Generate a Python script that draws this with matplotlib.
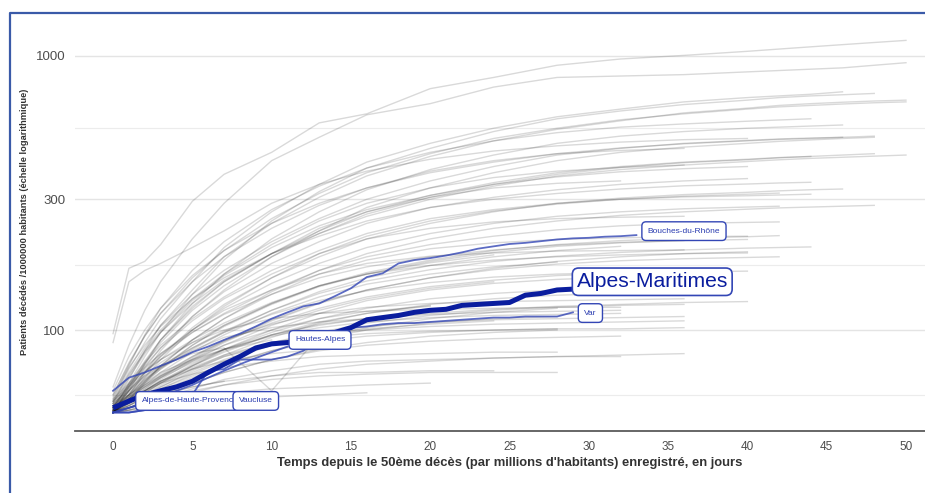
import matplotlib
matplotlib.use("Agg")
import matplotlib.pyplot as plt
from matplotlib.lines import Line2D

plt.rcParams["font.family"] = ["Liberation Sans", "DejaVu Sans"]

# Days at which the background (non-highlighted) departments are sampled
GRID_DAYS = [0, 1, 2, 3, 5, 7, 10, 13, 16, 20, 24, 28, 32, 36, 40, 42, 44, 46, 48, 50]

# Background departments, deaths per million (each list stops at its last day)
upper_curves = [
    [97, 168, 178, 205, 295, 370, 445, 570, 615, 760, 835, 925, 975, 1005, 1040, 1060, 1080, 1100, 1120, 1140],
    [62, 88, 118, 150, 215, 290, 415, 505, 610, 670, 770, 835, 845, 855, 875, 885, 895, 905, 925, 945],
    [55, 72, 90, 110, 150, 200, 270, 340, 410, 480, 545, 600, 640, 680, 705, 715, 725, 740],
    [51, 64, 80, 98, 135, 180, 250, 320, 390, 460, 530, 590, 630, 665, 690, 705, 715, 722, 730],
    [58, 76, 95, 115, 155, 195, 255, 315, 375, 440, 500, 545, 585, 615, 640, 652, 660, 668, 675, 680],
    [52, 66, 84, 104, 140, 185, 245, 305, 365, 430, 490, 540, 580, 620, 645, 660, 670, 678, 685, 690],
    [56, 74, 96, 120, 165, 210, 275, 335, 390, 445, 490, 525, 550, 565, 578, 584, 590],
    [50, 60, 75, 92, 125, 160, 215, 270, 325, 385, 435, 480, 510, 530, 545, 550, 555, 560],
    [90, 150, 165, 175, 200, 230, 290, 340, 380, 420, 450, 470, 485, 495, 500],
]

middle_curves = [
    [54, 70, 86, 104, 135, 165, 210, 255, 300, 350, 395, 435, 460, 480, 492, 498, 502, 505],
    [50, 58, 70, 84, 112, 140, 185, 230, 280, 330, 375, 415, 445, 465, 480, 488, 494, 500, 505],
    [60, 80, 100, 120, 158, 195, 245, 290, 330, 375, 410, 440, 462, 478, 490, 496, 500, 505, 510],
    [51, 63, 77, 92, 120, 150, 190, 230, 270, 310, 345, 375, 395, 410, 420, 426, 430, 435, 440],
    [55, 69, 83, 98, 125, 152, 190, 225, 260, 300, 335, 365, 385, 400, 412, 418, 423, 427, 431, 435],
    [50, 62, 75, 90, 118, 145, 185, 225, 265, 305, 340, 370, 392, 408, 418, 425, 430],
    [53, 67, 82, 98, 128, 158, 200, 240, 275, 310, 340, 362, 378, 388, 395],
    [58, 75, 95, 115, 150, 185, 235, 285, 330, 380, 415, 440, 452, 460],
    [54, 68, 84, 100, 130, 160, 205, 250, 290, 330, 360, 380, 392, 400],
    [50, 62, 76, 92, 122, 150, 190, 235, 270, 305, 330, 343, 350],
]

lower_middle_curves = [
    [50, 61, 73, 86, 112, 138, 175, 210, 245, 280, 305, 325, 340, 350, 357],
    [57, 73, 88, 103, 130, 155, 190, 220, 250, 280, 300, 315, 327, 336, 341, 344, 346],
    [50, 57, 67, 78, 100, 122, 155, 190, 220, 250, 272, 288, 300, 308, 313, 316],
    [52, 64, 76, 88, 110, 132, 165, 195, 225, 255, 275, 290, 300, 306, 309, 311, 313],
    [51, 58, 69, 80, 102, 124, 155, 185, 215, 245, 270, 290, 303, 312, 318, 322, 325, 327],
    [50, 60, 70, 81, 100, 120, 148, 175, 200, 225, 245, 260, 270, 277, 281, 283],
    [50, 55, 64, 74, 92, 110, 138, 165, 190, 215, 235, 250, 262, 270, 276, 279, 281, 283, 285],
    [51, 60, 70, 80, 98, 115, 140, 165, 185, 205, 220, 232, 240, 245, 247, 248],
    [52, 63, 74, 86, 108, 130, 160, 190, 215, 235, 248, 255, 258, 260],
    [50, 56, 65, 74, 92, 110, 135, 160, 180, 198, 208, 214, 217, 219, 220],
]

lower_curves = [
    [53, 62, 72, 82, 100, 118, 140, 160, 175, 186, 191, 194, 195, 196],
    [50, 56, 64, 72, 88, 104, 125, 145, 160, 172, 180, 185, 188, 190, 191],
    [50, 56, 62, 68, 80, 92, 105, 115, 121, 125, 127, 128, 129, 130],
    [51, 54, 59, 64, 74, 84, 96, 105, 110, 114, 116, 117, 118],
    [55, 63, 71, 78, 90, 100, 110, 115, 117, 119, 120, 121, 121],
    [50, 53, 57, 62, 71, 80, 90, 98, 103, 107, 109, 110, 111, 112],
    [51, 54, 59, 64, 72, 80, 88, 94, 97, 99, 100, 101, 101, 102],
    [50, 51, 53, 56, 61, 66, 71, 75, 77, 78, 79, 80, 80],
    [50, 52, 54, 57, 60, 63, 66, 68, 69, 70, 70, 70],
    [52, 56, 60, 64, 69, 73, 77, 80, 81, 82, 83, 83],
    [50, 52, 55, 58, 62, 65, 68, 70, 70, 71, 71],
    [50, 51, 52, 54, 57, 59, 61, 62, 63, 64],
    [50, 51, 51, 52, 54, 56, 57, 58, 59],
]

filler_curves = [
    [50, 55, 61, 67, 78, 90, 108, 125, 140, 155, 168, 178, 185, 190, 193],
    [52, 58, 65, 72, 85, 98, 118, 138, 155, 172, 185, 195, 202],
    [50, 54, 59, 64, 74, 85, 100, 115, 128, 140, 148, 153, 156, 158],
    [53, 60, 68, 76, 90, 104, 125, 145, 162, 180, 195, 205, 212, 216, 219, 221],
    [50, 56, 63, 70, 83, 96, 115, 132, 147, 160, 170, 177],
    [51, 55, 60, 65, 75, 85, 98, 110, 120, 130, 136, 140, 142],
    [55, 62, 70, 78, 92, 106, 126, 145, 160, 176, 188],
    [50, 53, 57, 61, 69, 77, 88, 98, 106, 113, 118, 121, 123, 124],
    [52, 57, 63, 69, 80, 91, 106, 120, 132, 144, 152, 158, 161, 163, 164],
    [50, 55, 60, 66, 77, 88, 104, 118, 130, 142, 150],
    [54, 60, 67, 74, 86, 98, 114, 128, 139, 149, 156, 160, 162],
    [50, 52, 55, 58, 64, 70, 78, 85, 90, 95, 98, 100],
    [51, 56, 62, 68, 78, 88, 100, 110, 117, 122],
    [50, 54, 58, 63, 72, 81, 94, 106, 115, 124, 130, 134, 136, 137],
    [56, 64, 73, 82, 98, 114, 135, 155, 170, 185, 196, 204, 209, 212],
    [50, 57, 65, 73, 88, 103, 124, 144, 160, 178, 192, 202, 208, 212, 214],
    [52, 56, 60, 65, 74, 83, 96, 107, 115, 123],
    [50, 53, 56, 60, 67, 74, 84, 93, 100, 106, 110, 112],
    [53, 59, 66, 73, 86, 99, 118, 136, 151, 166, 178, 186, 192, 196, 199, 200, 201],
    [50, 55, 61, 67, 79, 91, 109, 126, 140, 155, 166, 174, 179, 182, 184, 185],
]

slow_curves = [
    [51, 55, 60, 65, 73, 81, 90, 96, 100, 103, 105, 106, 107, 108],
    [50, 53, 57, 61, 68, 75, 84, 91, 95, 98, 100, 101],
    [53, 58, 63, 68, 77, 85, 95, 102, 107, 111, 113, 114, 115],
    [50, 52, 55, 58, 64, 70, 78, 84, 88, 91, 93, 94, 95],
    [52, 57, 62, 67, 76, 85, 96, 104, 110, 115, 119, 122, 124, 126, 127],
    [50, 54, 58, 62, 70, 78, 88, 96, 101, 105, 108],
    [50, 51, 53, 55, 59, 63, 68, 72, 75, 77, 79, 80, 81, 82],
]

short_curves = [
    [50, 55, 60, 65, 72, 77, 82, 85],
    [52, 58, 64, 70, 78, 85, 92],
    [50, 52, 55, 58, 62, 65],
    [51, 58, 66, 73, 84, 94, 102, 107, 110],
    [54, 61, 68, 74, 82, 86, 60, 95, 102, 110, 116, 120],
]

# Highlighted departments, one value per day from day 0
alpes_maritimes = [52, 55, 58, 60, 62, 65, 70, 75, 80, 86, 89, 90, 91, 94, 98,
                   102, 109, 111, 113, 116, 118, 119, 123, 124, 125, 126, 134, 136, 140, 141]
bouches_du_rhone = [60, 67, 70, 74, 78, 83, 87, 92, 97, 103, 110, 116, 122, 125, 133,
                    142, 156, 161, 175, 180, 183, 187, 192, 198, 202, 206, 208, 211, 214,
                    216, 217, 219, 220, 222]
var = [50, 50, 51, 53, 55, 58, 71, 72, 78, 78, 78, 80, 84, 92, 98,
       102, 103, 105, 106, 106, 107, 108, 109, 110, 111, 111, 112, 112, 112, 116]
hautes_alpes = [50, 52, 54, 57, 60, 63, 67, 71, 75, 79, 83, 87]
alpes_de_haute_provence = [50, 52, 54]
vaucluse = [50, 50, 51, 51, 52, 52, 53, 54, 55]

Y_TICKS = [100, 300, 1000]
Y_MINOR = [57.7, 173.2, 547.7]
X_TICKS = [0, 5, 10, 15, 20, 25, 30, 35, 40, 45, 50]

BLUE_DARK = "#0a1d9e"
BLUE_LINE = "#3346b5"
BLUE_TEXT = "#2a3cb0"

fig = plt.figure(figsize=(9.25, 4.93), dpi=100)
ax = fig.add_axes([75 / 925, 62 / 493, 850 / 925, 401 / 493])

for group in (upper_curves, middle_curves, lower_middle_curves, lower_curves,
              filler_curves, slow_curves, short_curves):
    for vals in group:
        ax.plot(GRID_DAYS[:len(vals)], vals, color="black", alpha=0.15, lw=1.0,
                solid_joinstyle="round", zorder=2)

for vals in (bouches_du_rhone, var, hautes_alpes, alpes_de_haute_provence, vaucluse):
    ax.plot(range(len(vals)), vals, color=BLUE_LINE, alpha=0.8, lw=1.3, zorder=3)

ax.plot(range(len(alpes_maritimes)), alpes_maritimes, color=BLUE_DARK, lw=3.6,
        solid_joinstyle="round", solid_capstyle="butt", zorder=4)

small_box = dict(boxstyle="round,pad=0.7,rounding_size=0.5", fc="white",
                 ec=BLUE_LINE, lw=1.0)
labels = [
    ("Bouches-du-Rhône", 36.0, 229.5),
    ("Var", 30.1, 115.3),
    ("Hautes-Alpes", 13.05, 92.0),
    ("Alpes-de-Haute-Provenc", 4.7, 55.1),
    ("Vaucluse", 9.0, 55.1),
]
for text, x, y in labels:
    ax.text(x, y, text, fontsize=6, color=BLUE_TEXT, ha="center", va="center",
            bbox=small_box, zorder=6)

ax.text(34.0, 150.0, "Alpes-Maritimes", fontsize=15.2, color=BLUE_DARK,
        ha="center", va="center", zorder=7,
        bbox=dict(boxstyle="round,pad=0.2,rounding_size=0.3", fc="white",
                  ec=BLUE_LINE, lw=1.2))

ax.set_yscale("log")
ax.set_ylim(42.8, 1244)
ax.set_xlim(-2.4, 51.2)
ax.set_yticks(Y_TICKS)
ax.set_yticklabels([str(v) for v in Y_TICKS])
ax.set_yticks(Y_MINOR, minor=True)
ax.set_yticklabels([], minor=True)
ax.set_xticks(X_TICKS)
ax.set_xticklabels([str(v) for v in X_TICKS])
ax.tick_params(axis="both", which="both", length=0)
ax.tick_params(axis="y", labelsize=9.5, colors="#4d4d4d", pad=7)
ax.tick_params(axis="x", labelsize=8.5, colors="#4d4d4d", pad=7)

ax.grid(axis="y", which="major", color="#e4e4e4", lw=1.0)
ax.grid(axis="y", which="minor", color="#ececec", lw=0.8)
ax.grid(axis="x", which="both", visible=False)
ax.set_axisbelow(True)
for side in ("top", "right", "left"):
    ax.spines[side].set_visible(False)
ax.spines["bottom"].set_color("#5a5a5a")
ax.spines["bottom"].set_linewidth(1.3)

ax.set_xlabel("Temps depuis le 50ème décès (par millions d'habitants) enregistré, en jours",
              fontsize=9.4, fontweight="bold", color="#333333", va="center")
ax.xaxis.set_label_coords((510 - 75) / 850, (30 - 62) / 401)
fig.text(25 / 925, 1 - 222 / 493,
         "Patients décédés /1000000 habitants (échelle logarithmique)",
         rotation=90, fontsize=6.7, fontweight="bold", color="#333333",
         ha="center", va="center")

# Blue frame along the left and top edges
fig.add_artist(Line2D([10 / 925, 10 / 925, 1.0], [0.0, 1 - 13 / 493, 1 - 13 / 493],
                      transform=fig.transFigure, color="#3a5aa8", lw=1.6))

fig.savefig("out.png", dpi=100)
